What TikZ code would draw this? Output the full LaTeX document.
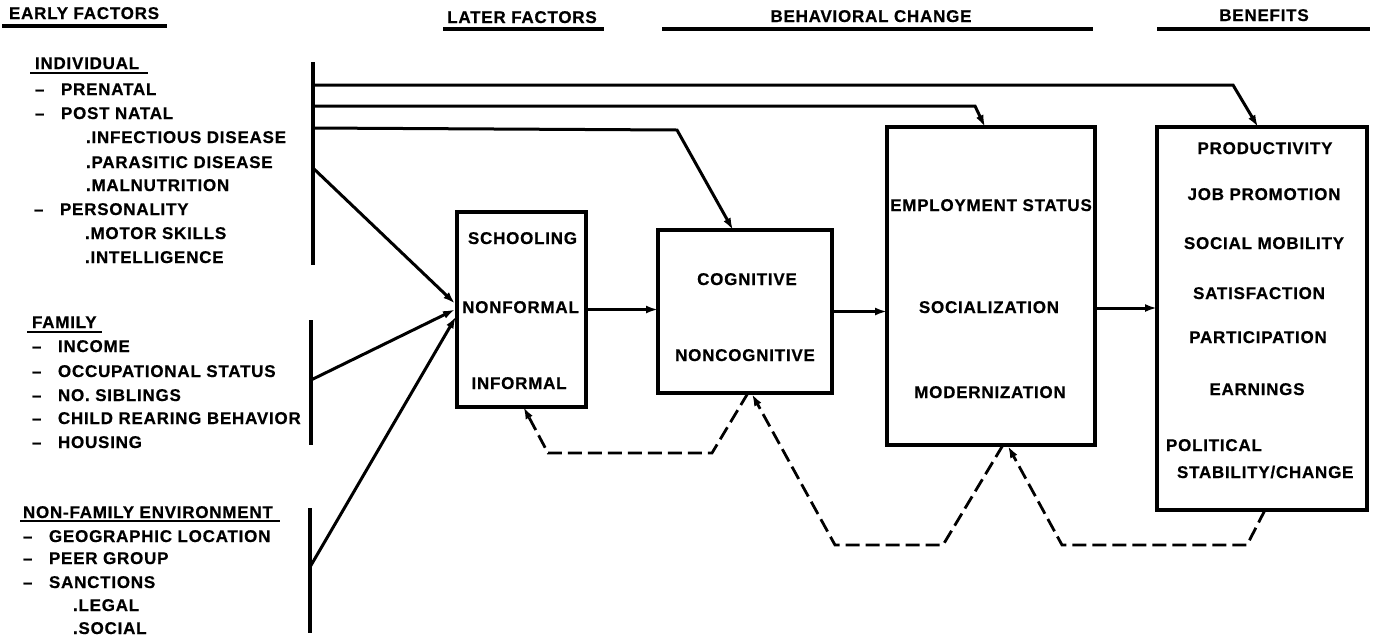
\documentclass[tikz,border=0pt]{standalone}
\usepackage{fontspec}
\setmainfont{Liberation Sans}[LetterSpace=4.5, BoldFeatures={FakeBold=0.6}]
\usetikzlibrary{arrows.meta,calc}
\begin{document}
\begin{tikzpicture}[x=1pt,y=-1pt,
  lbl/.style={font=\fontsize{17}{18}\selectfont\bfseries, inner sep=0pt, outer sep=0pt},
  L/.style={lbl, anchor=base west},
  C/.style={lbl, anchor=base},
  bx/.style={draw, line width=3.2pt, inner sep=0pt, outer sep=0pt},
  ln/.style={line width=3.2pt},
  arr/.style={line width=3pt, -{Latex[length=12pt,width=8pt]}},
  fb/.style={line width=2.8pt, dash pattern=on 14pt off 6pt, -{Latex[length=12pt,width=8pt]}},
  ul/.style={line width=2.2pt}]
\useasboundingbox (0,0) rectangle (1373,638);

% ---------- headings ----------
\node[L] (hearly) at (9,19) {EARLY FACTORS};
\draw[ln] (2,26) -- (167,26);
\node[C] (hlater) at (522,23) {LATER FACTORS};
\draw[ln] (443,29) -- (604,29);
\node[C] (hbeh) at (871,22) {BEHAVIORAL CHANGE};
\draw[ln] (662,29) -- (1093,29);
\node[C] (hben) at (1264,21) {BENEFITS};
\draw[ln] (1157,29) -- (1370,29);

% ---------- left column ----------
\newcommand{\dsh}[1]{\makebox[26pt][l]{--}#1}
\node[L] (ind) at (35,69) {INDIVIDUAL};
\draw[ul] (30,73) -- (148,73);
\node[L] at (35,95) {\dsh{PRENATAL}};
\node[L] at (35,119) {\dsh{POST NATAL}};
\node[L] at (86,143) {.INFECTIOUS DISEASE};
\node[L] at (86,168) {.PARASITIC DISEASE};
\node[L] at (86,191) {.MALNUTRITION};
\node[L] at (34,215) {\dsh{PERSONALITY}};
\node[L] at (85,239) {.MOTOR SKILLS};
\node[L] at (85,263) {.INTELLIGENCE};

\node[L] (fam) at (32,328) {FAMILY};
\draw[ul] (27,332) -- (102,332);
\node[L] at (32,352) {\dsh{INCOME}};
\node[L] at (32,377) {\dsh{OCCUPATIONAL STATUS}};
\node[L] at (32,401) {\dsh{NO. SIBLINGS}};
\node[L] at (32,424) {\dsh{CHILD REARING BEHAVIOR}};
\node[L] at (32,448) {\dsh{HOUSING}};

\node[L] (nonfam) at (23,518) {NON-FAMILY ENVIRONMENT};
\draw[ul] (20,521) -- (280,521);
\node[L] at (23,542) {\dsh{GEOGRAPHIC LOCATION}};
\node[L] at (23,564) {\dsh{PEER GROUP}};
\node[L] at (23,588) {\dsh{SANCTIONS}};
\node[L] at (73,611) {.LEGAL};
\node[L] at (73,634) {.SOCIAL};

% ---------- bars ----------
\coordinate (b1t) at (313,62);  \coordinate (b1b) at (313,265);
\coordinate (b2t) at (311,320); \coordinate (b2b) at (311,445);
\coordinate (b3t) at (310,508); \coordinate (b3b) at (310,633);
\draw[ln] (b1t) -- (b1b);
\draw[ln] (b2t) -- (b2b);
\draw[ln] (b3t) -- (b3b);
\coordinate (b1a) at (313,85);
\coordinate (b1c) at (313,106);
\coordinate (b1d) at (313,128);
\coordinate (b1e) at (313,168);
\coordinate (b2e) at (311,380);
\coordinate (b3e) at (310,567);

% ---------- boxes ----------
\node[bx, minimum width=129, minimum height=195] (later) at (521.5,309.5) {};
\node[bx, minimum width=174, minimum height=163] (cog) at (745,311.5) {};
\node[bx, minimum width=208, minimum height=318] (emp) at (991,286) {};
\node[bx, minimum width=210, minimum height=383] (ben) at (1262,318.5) {};

\node[C] at (522.5,244) {SCHOOLING};
\node[C] at (520.5,313) {NONFORMAL};
\node[C] at (519,389) {INFORMAL};

\node[C] at (747,285) {COGNITIVE};
\node[C] at (745,361) {NONCOGNITIVE};

\node[C] at (991,211) {EMPLOYMENT STATUS};
\node[C] at (989,313) {SOCIALIZATION};
\node[C] at (990,398) {MODERNIZATION};

\node[C] at (1265,154) {PRODUCTIVITY};
\node[C] at (1264,200) {JOB PROMOTION};
\node[C] at (1264,249) {SOCIAL MOBILITY};
\node[C] at (1259,299) {SATISFACTION};
\node[C] at (1258,343) {PARTICIPATION};
\node[C] at (1257,395) {EARNINGS};
\node[L] at (1166,451) {POLITICAL};
\node[L] at (1177,478) {STABILITY/CHANGE};

% ---------- connectors ----------
\draw[arr] (b1a) -- (1233,85) -- ($(ben.north)+(-4,0)$);
\draw[arr] (b1c) -- (975,106) -- ($(emp.north)+(-6,0)$);
\draw[arr] (b1d) -- (677,130) -- ($(cog.north)+(-12,0)$);

\draw[arr] (b1e) -- ($(later.west)+(-2,-6)$);
\draw[arr] (b2e) -- ($(later.west)+(-2,0)$);
\draw[arr] (b3e) -- ($(later.west)+(-1,7)$);

\draw[arr] (later.east) -- (later.east -| cog.west);
\draw[arr] (cog.east) -- (cog.east -| emp.west);
\coordinate (e1) at ($(emp.east)+(0,22)$);
\draw[arr] (e1) -- (e1 -| ben.west);

% ---------- feedback (dashed) ----------
\draw[fb] ($(cog.south)+(3,0)$) -- (712,453) -- (548,453) -- ($(later.south)+(2,0)$);
\draw[fb] ($(emp.south)+(12,0)$) -- (943,545) -- (835,545) -- ($(cog.south)+(7,1)$);
\draw[fb] ($(ben.south)+(3,0)$) -- (1247,545) -- (1062,545) -- ($(emp.south)+(17,1)$);
\end{tikzpicture}
\end{document}
